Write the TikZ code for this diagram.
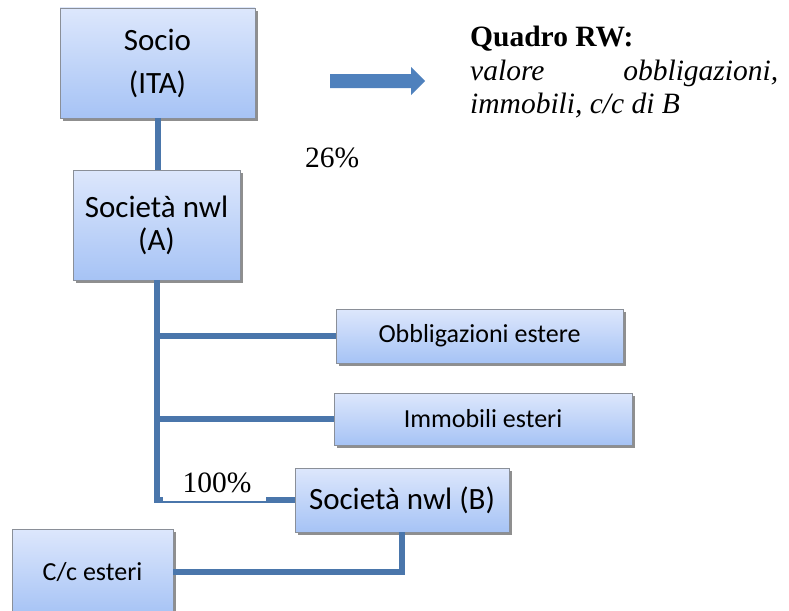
\documentclass[tikz,border=0pt]{standalone}
\usepackage{fontspec}
\setmainfont{Liberation Serif}
\newfontfamily\carlito{Carlito}
\usetikzlibrary{shadows}
\definecolor{linec}{HTML}{4A76AB}
\definecolor{arrowc}{HTML}{4F81BD}
\definecolor{boxtop}{HTML}{DDE7FC}
\definecolor{boxbot}{HTML}{A6C3F5}
\definecolor{boxedge}{HTML}{8A8F98}
\tikzset{
  box/.style={draw=boxedge, line width=0.8pt, top color=boxtop, bottom color=boxbot,
    drop shadow={shadow xshift=2.5pt, shadow yshift=-3pt, fill=black!55, opacity=0.8},
    inner sep=0pt, align=center},
  bigtxt/.style={font=\carlito\fontsize{31}{39}\selectfont},
  smalltxt/.style={font=\carlito\fontsize{26}{30}\selectfont},
  conn/.style={draw=linec, line width=6pt, line join=miter},
  serif/.style={font=\fontsize{29.5}{33}\selectfont, inner sep=0pt}
}
\begin{document}
\begin{tikzpicture}[x=1pt,y=-1pt]
\useasboundingbox (0,0) rectangle (789,610);
% boxes
\node[box, bigtxt, minimum width=195pt, minimum height=110pt] (socio) at (157.5,63)
  {Socio\\[4pt](ITA)};
\node[box, minimum width=167pt, minimum height=110pt, font=\carlito\fontsize{31}{33}\selectfont] (A) at (156.5,225)
  {Società nwl\\(A)};
\node[box, smalltxt, minimum width=287pt, minimum height=54pt] (obb) at (479.5,336)
  {Obbligazioni estere};
\node[box, smalltxt, minimum width=298pt, minimum height=52pt] (imm) at (483,419)
  {Immobili esteri};
\node[box, bigtxt, minimum width=214pt, minimum height=64pt] (B) at (402,500)
  {Società nwl (B)};
\node[box, smalltxt, minimum width=161pt, minimum height=86pt] (cc) at (92.5,572)
  {C/c esteri};
% connectors
\coordinate (corner) at (157,500);
\draw[conn] (socio.south) -- (socio.south |- A.north);
\draw[conn] (corner |- A.south) -- (corner) -- (B.west);
\draw[conn] (corner |- obb.west) -- (obb.west);
\draw[conn] (corner |- imm.west) -- (imm.west);
\draw[conn] (B.south) |- (cc.east);
% labels
\node[fill=white, inner sep=0pt, minimum width=103pt, minimum height=36pt] (p100) at (214.5,483) {};
\node[serif, anchor=base] (t100) at (217,492) {100\%};
\node[serif, anchor=base west] (p26) at (305,167) {26\%};
% arrow
\fill[arrowc] (330,74) -- (411,74) -- (411,67) -- (425,81) -- (411,95) -- (411,88) -- (330,88) -- cycle;
% Quadro RW text
\node[serif, anchor=base west] (q1) at (470,47) {\textbf{Quadro RW:}};
\node[serif, anchor=base west] (q2) at (470,80) {\makebox[308pt][s]{\itshape valore obbligazioni,}};
\node[serif, anchor=base west] (q3) at (470,113) {\itshape immobili, c/c di B};
\end{tikzpicture}
\end{document}
